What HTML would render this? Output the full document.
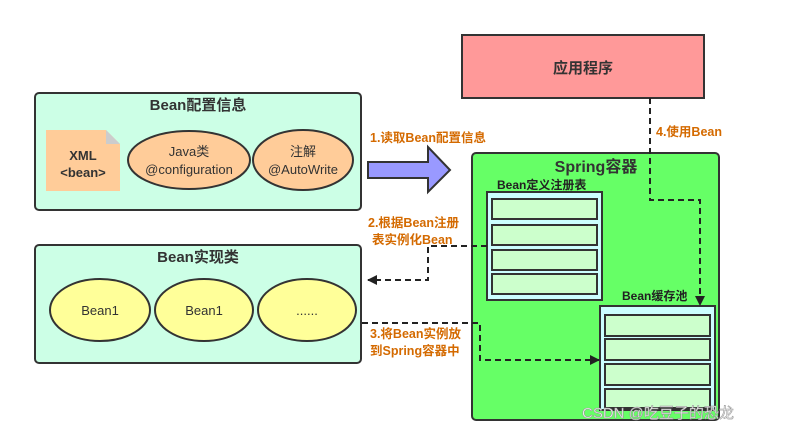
<!DOCTYPE html>
<html><head><meta charset="utf-8"><style>
html,body{margin:0;padding:0;background:#fff;}
svg{display:block;font-family:"Liberation Sans","Noto Sans CJK SC",sans-serif;}
.o{fill:#d46a00;font-weight:bold;font-size:12.5px;}
</style></head><body>
<svg width="789" height="434" viewBox="0 0 789 434">
<defs>
<marker id="ah" markerWidth="10" markerHeight="10" refX="9" refY="5" orient="auto" markerUnits="userSpaceOnUse"><path d="M0,0 L10,5 L0,10 Z" fill="#222"/></marker>
</defs>
<!-- Bean config -->
<rect x="35" y="93" width="326" height="117" rx="4" fill="#ccffe6" stroke="#333" stroke-width="2"/>
<text x="198" y="110" text-anchor="middle" font-size="15" font-weight="bold" fill="#333">Bean配置信息</text>
<path d="M46,130 L106,130 L120,144 L120,191 L46,191 Z" fill="#ffcc99"/>
<path d="M106,130 L120,144 L106,144 Z" fill="#ccc"/>
<text x="83" y="160" text-anchor="middle" font-size="13" font-weight="bold" fill="#333">XML</text>
<text x="83" y="177" text-anchor="middle" font-size="13" font-weight="bold" fill="#333">&lt;bean&gt;</text>
<ellipse cx="189" cy="160" rx="61" ry="29" fill="#ffcc99" stroke="#333" stroke-width="2"/>
<text x="189" y="156" text-anchor="middle" font-size="13" fill="#333">Java类</text>
<text x="189" y="174" text-anchor="middle" font-size="13" fill="#333">@configuration</text>
<ellipse cx="303" cy="160" rx="50" ry="30" fill="#ffcc99" stroke="#333" stroke-width="2"/>
<text x="303" y="156" text-anchor="middle" font-size="13" fill="#333">注解</text>
<text x="303" y="174" text-anchor="middle" font-size="13" fill="#333">@AutoWrite</text>
<!-- Bean impl -->
<rect x="35" y="245" width="326" height="118" rx="4" fill="#ccffe6" stroke="#333" stroke-width="2"/>
<text x="198" y="262" text-anchor="middle" font-size="15" font-weight="bold" fill="#333">Bean实现类</text>
<ellipse cx="100" cy="310" rx="50" ry="31" fill="#ffff99" stroke="#333" stroke-width="2"/>
<text x="100" y="315" text-anchor="middle" font-size="13" fill="#333">Bean1</text>
<ellipse cx="204" cy="310" rx="49" ry="31" fill="#ffff99" stroke="#333" stroke-width="2"/>
<text x="204" y="315" text-anchor="middle" font-size="13" fill="#333">Bean1</text>
<ellipse cx="307" cy="310" rx="49" ry="31" fill="#ffff99" stroke="#333" stroke-width="2"/>
<text x="307" y="315" text-anchor="middle" font-size="13" fill="#333">......</text>
<!-- big arrow -->
<path d="M368,162 L428,162 L428,147 L450,170 L428,192 L428,178 L368,178 Z" fill="#9999ff" stroke="#333" stroke-width="2"/>
<text x="370" y="142" class="o">1.读取Bean配置信息</text>
<!-- App -->
<rect x="462" y="35" width="242" height="63" fill="#ff9999" stroke="#333" stroke-width="2"/>
<text x="583" y="73" text-anchor="middle" font-size="15" font-weight="bold" fill="#333">应用程序</text>
<!-- Spring -->
<rect x="472" y="153" width="247" height="267" rx="4" fill="#66ff66" stroke="#333" stroke-width="2"/>
<text x="596" y="172" text-anchor="middle" font-size="16" font-weight="bold" fill="#333">Spring容器</text>
<text x="497" y="189" font-size="12" font-weight="bold" fill="#222">Bean定义注册表</text>
<rect x="487" y="192" width="115" height="108" fill="#ccffff" stroke="#333" stroke-width="2"/>
<rect x="492" y="199" width="105" height="20" fill="#ccffcc" stroke="#333" stroke-width="2"/>
<rect x="492" y="225" width="105" height="20" fill="#ccffcc" stroke="#333" stroke-width="2"/>
<rect x="492" y="250" width="105" height="20" fill="#ccffcc" stroke="#333" stroke-width="2"/>
<rect x="492" y="274" width="105" height="20" fill="#ccffcc" stroke="#333" stroke-width="2"/>
<text x="622" y="300" font-size="12" font-weight="bold" fill="#222">Bean缓存池</text>
<rect x="600" y="306" width="115" height="104" fill="#ccffff" stroke="#333" stroke-width="2"/>
<rect x="605" y="315" width="105" height="21" fill="#ccffcc" stroke="#333" stroke-width="2"/>
<rect x="605" y="339" width="105" height="21" fill="#ccffcc" stroke="#333" stroke-width="2"/>
<rect x="605" y="364" width="105" height="21" fill="#ccffcc" stroke="#333" stroke-width="2"/>
<rect x="605" y="389" width="105" height="19" fill="#ccffcc" stroke="#333" stroke-width="2"/>
<!-- dashed connectors -->
<g fill="none" stroke="#222" stroke-width="2" stroke-dasharray="6,4">
<path d="M650,98 L650,200 L700,200 L700,305" marker-end="url(#ah)"/>
<path d="M487,246 L428,246 L428,280 L368,280" marker-end="url(#ah)"/>
<path d="M362,323 L480,323 L480,360 L599,360" marker-end="url(#ah)"/>
</g>
<text x="656" y="136" class="o">4.使用Bean</text>
<text x="368" y="227" class="o">2.根据Bean注册</text>
<text x="372" y="244" class="o">表实例化Bean</text>
<text x="370" y="338" class="o">3.将Bean实例放</text>
<text x="370" y="355" class="o">到Spring容器中</text>
<text x="582" y="418" font-size="15" fill="#fff" stroke="#999" stroke-width="0.6">CSDN @吃豆子的恐龙</text>
</svg>
</body></html>
